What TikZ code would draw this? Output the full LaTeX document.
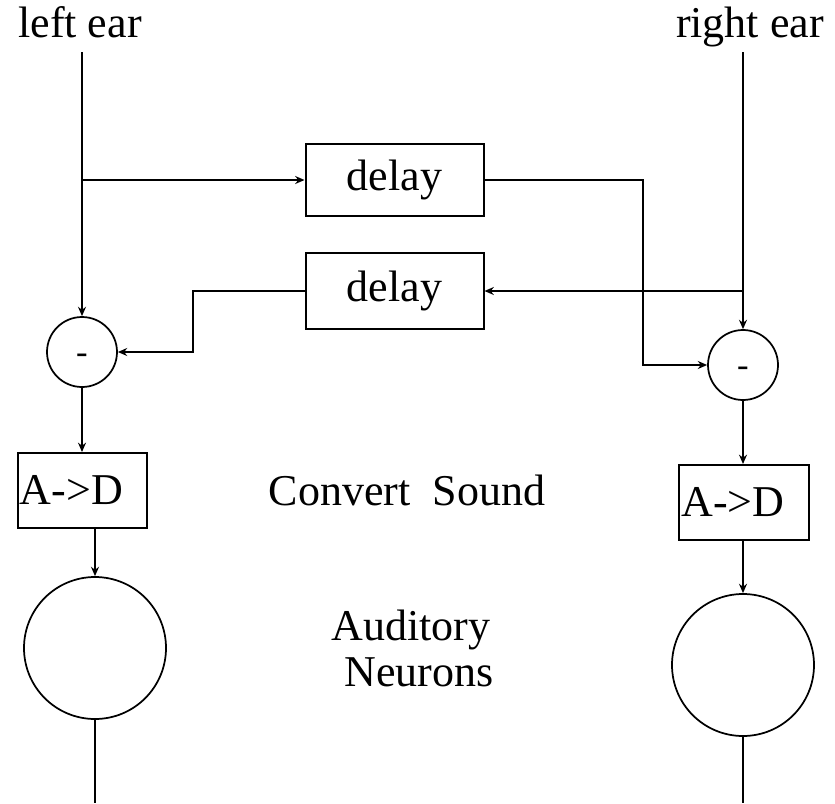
\documentclass[tikz,border=0pt]{standalone}
\usepackage{fontspec}
\setmainfont{Liberation Serif}
\usetikzlibrary{arrows.meta}
\begin{document}
\begin{tikzpicture}[x={(0.75pt,0)},y={(0,-0.75pt)},
  line width=1.5pt,
  every node/.style={font=\fontsize{33}{38}\selectfont},
  arr/.style={-{Stealth[length=7pt,width=6pt]}},
  box/.style={draw,rectangle,inner sep=0pt},
  sumnode/.style={draw,circle,line width=1.3pt,minimum size=52.5pt,inner sep=0pt,
    label={[inner sep=0pt,yshift=-5pt,font=\fontsize{26}{28}\selectfont]center:-}},
  neuron/.style={draw,circle,line width=1.3pt,minimum size=106.5pt,inner sep=0pt},
  lbl/.style={inner sep=0pt}]
\useasboundingbox (0,0) rectangle (835,803);
% labels
\node[lbl,anchor=base] (leftear) at (80,37) {left ear};
\node[lbl,anchor=base] (rightear) at (750,37) {right ear};
\coordinate (lt) at (82,52);
\coordinate (rt) at (743,52);
% delays
\node[box,minimum width=133.5pt,minimum height=54pt] (d1) at (394.5,180) {delay};
\node[box,minimum width=133.5pt,minimum height=57pt] (d2) at (394.5,291) {delay};
% subtractors
\node[sumnode] (mL) at (82,352) {};
\node[sumnode] (mR) at (743,365) {};
% A->D
\node[box,text width=94pt,inner xsep=1.5pt,minimum height=56.25pt,align=left] (adL) at (82.5,490.5) {A->D};
\node[box,text width=94pt,inner xsep=1.5pt,minimum height=56.25pt,align=left] (adR) at (744,502.5) {A->D};
% neurons
\node[neuron] (nL) at (95,648) {};
\node[neuron] (nR) at (743,665) {};
\coordinate (endL) at (95,803);
\coordinate (endR) at (743,803);
% texts
\node[lbl] (conv) at (407,490) {Convert\ \ Sound};
\node[lbl] (aud) at (411,630) {Auditory};
\node[lbl] (neu) at (419,672) {Neurons};
% junctions
\coordinate (jL) at (82,180);
\coordinate (jR) at (743,291);
\coordinate (cR) at (643,180);
\coordinate (cL) at (193,291);
% connectors
\draw[arr] (lt) -- (mL.north);
\draw[arr] (jL) -- (d1.west);
\draw[arr] (d1.east) -- (cR) |- (mR.west);
\draw[arr] (rt) -- (mR.north);
\draw[arr] (jR) -- (d2.east);
\draw[arr] (d2.west) -- (cL) |- (mL.east);
\draw[arr] (mL.south) -- (adL.north -| mL.south);
\draw[arr] (adL.south -| nL.north) -- (nL.north);
\draw[arr] (mR.south) -- (adR.north -| mR.south);
\draw[arr] (adR.south -| nR.north) -- (nR.north);
\draw (nL.south) -- (endL);
\draw (nR.south) -- (endR);
\end{tikzpicture}
\end{document}
